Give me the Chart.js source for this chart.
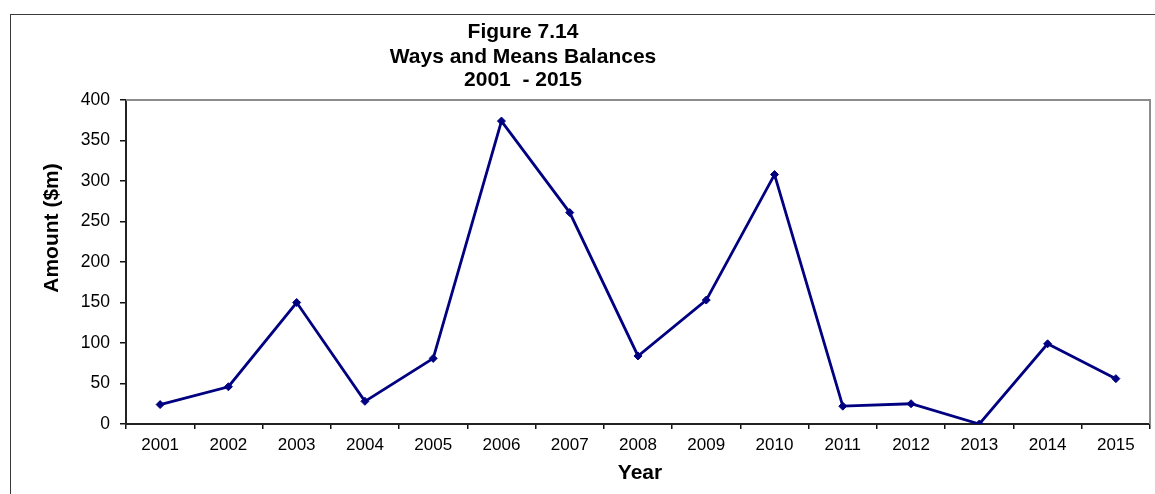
<!DOCTYPE html>
<html>
<head>
<meta charset="utf-8">
<script src="https://cdn.jsdelivr.net/npm/chart.js@4.4.0/dist/chart.umd.min.js"></script>
<style>
  html, body { margin: 0; padding: 0; background: #fff; overflow: hidden; }
  .wrap { position: relative; width: 1155px; height: 494px; }
  .frame { position: absolute; left: 10px; top: 14px; width: 1160px; height: 500px; border: 1px solid #3a3a3a; box-sizing: border-box; }
  canvas { position: absolute; left: 0; top: 0; }
</style>
</head>
<body>
<div class="wrap">
  <div class="frame"></div>
  <canvas id="chart" width="1155" height="494"></canvas>
</div>
<script>
const years = ["2001", "2002", "2003", "2004", "2005", "2006", "2007", "2008",
  "2009", "2010", "2011", "2012", "2013", "2014", "2015"];
const balances = [24, 46, 150, 28, 81, 374, 261, 84, 153, 308, 22, 25, 0, 99, 56];
const titleLines = ["Figure 7.14", "Ways and Means Balances", "2001  - 2015"];
const yTitle = "Amount ($m)";
const xTitle = "Year";

const FONT = "'Liberation Sans', Arial, sans-serif";

// plot frame (grey top/right) and the text titles
const decor = {
  id: "decor",
  beforeDatasetsDraw(chart) {
    const { ctx, chartArea: a } = chart;
    ctx.save();
    ctx.strokeStyle = "#8c8c8c";
    ctx.lineWidth = 2;
    ctx.beginPath();
    ctx.moveTo(a.left, a.top);
    ctx.lineTo(a.right, a.top);
    ctx.lineTo(a.right, a.bottom);
    ctx.stroke();
    ctx.restore();
  },
  afterDraw(chart) {
    const { ctx } = chart;
    ctx.save();
    ctx.fillStyle = "#000";
    ctx.textAlign = "center";
    ctx.textBaseline = "middle";
    ctx.font = `bold 21px ${FONT}`;
    const ys = [32, 57, 80];
    titleLines.forEach((t, i) => ctx.fillText(t, 523, ys[i]));
    ctx.fillText(xTitle, 640, 473);
    ctx.translate(52, 228);
    ctx.rotate(-Math.PI / 2);
    ctx.fillText(yTitle, 0, 0);
    ctx.restore();
  },
};

new Chart(document.getElementById("chart"), {
  type: "line",
  data: {
    labels: years,
    datasets: [{
      data: balances,
      borderColor: "#000080",
      backgroundColor: "#000080",
      borderWidth: 2.8,
      pointStyle: "rectRot",
      pointRadius: 4,
      pointBorderWidth: 1,
      tension: 0,
    }],
  },
  options: {
    responsive: false,
    animation: false,
    layout: { padding: { left: 0, top: 100, right: 5, bottom: 0 } },
    plugins: { legend: { display: false }, tooltip: { enabled: false } },
    scales: {
      x: {
        offset: true,
        grid: { offset: true, drawOnChartArea: false, drawTicks: true, tickLength: 5, color: "#111", lineWidth: 1.5 },
        border: { display: true, color: "#222", width: 2 },
        ticks: { color: "#000", font: { family: FONT, size: 17 }, padding: 6, maxRotation: 0 },
        afterFit(scale) { scale.height = 70; },
      },
      y: {
        min: 0,
        max: 400,
        ticks: { stepSize: 50, color: "#000", font: { family: FONT, size: 17.5 }, padding: 10 },
        grid: { drawOnChartArea: false, drawTicks: true, tickLength: 6, color: "#111", lineWidth: 1.5 },
        border: { display: true, color: "#222", width: 2 },
        afterFit(scale) { scale.width = 126; },
      },
    },
  },
  plugins: [decor],
});
</script>
</body>
</html>
